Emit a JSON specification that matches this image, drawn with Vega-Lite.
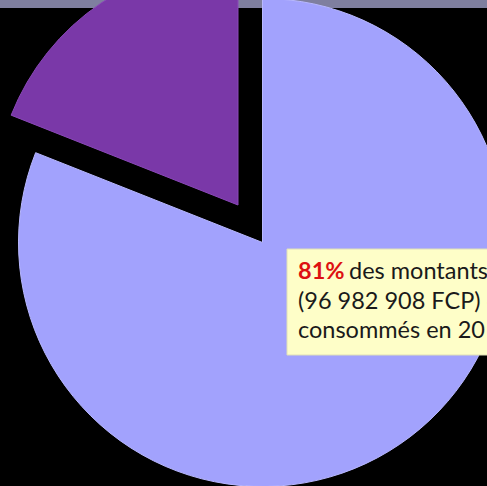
{
  "$schema": "https://vega.github.io/schema/vega-lite/v6.json",
  "width": 487,
  "height": 478,
  "autosize": "none",
  "padding": {"top": 8, "left": 0, "right": 0, "bottom": 0},
  "background": "#7f7f9f",
  "view": {"fill": "#000000", "stroke": null},
  "config": {"view": {"fill": "#000000", "stroke": null}},
  "datasets": {
    "parts": [
      {"categorie": "Consommés", "pourcentage": 81},
      {"categorie": "Non consommés", "pourcentage": 19}
    ],
    "note": [{"ligne1": "81%", "suite1": "des montants", "lignes": ["(96 982 908 FCP) ont", "consommés en 20"]}]
  },
  "layer": [
    {
      "data": {"name": "parts"},
      "transform": [
        {"stack": "pourcentage", "groupby": [], "sort": [{"field": "categorie", "order": "ascending"}], "as": ["debut", "fin"]},
        {"filter": "datum.categorie == 'Consommés'"}
      ],
      "mark": {"type": "arc", "outerRadius": 244, "xOffset": 19, "yOffset": -4.5, "color": "#a2a2fd", "stroke": "#b8b8ff", "strokeWidth": 1},
      "encoding": {
        "theta": {"field": "debut", "type": "quantitative", "scale": {"domain": [0, 100]}},
        "theta2": {"field": "fin"}
      }
    },
    {
      "data": {"name": "parts"},
      "transform": [
        {"stack": "pourcentage", "groupby": [], "sort": [{"field": "categorie", "order": "ascending"}], "as": ["debut", "fin"]},
        {"filter": "datum.categorie == 'Non consommés'"}
      ],
      "mark": {"type": "arc", "outerRadius": 244, "xOffset": -5.5, "yOffset": -42, "color": "#7a38a8", "stroke": "#8a48b8", "strokeWidth": 1},
      "encoding": {
        "theta": {"field": "debut", "type": "quantitative", "scale": {"domain": [0, 100]}},
        "theta2": {"field": "fin"}
      }
    },
    {
      "data": {"name": "note"},
      "mark": {"type": "rect", "x": 287, "x2": 520, "y": 241, "y2": 347, "color": "#fefec8", "stroke": "#e0e0b8", "strokeWidth": 1}
    },
    {
      "data": {"name": "note"},
      "mark": {"type": "text", "x": 298, "y": 271, "align": "left", "baseline": "alphabetic", "font": "Lato", "fontSize": 23.5, "fontWeight": "bold", "color": "#dd1111"},
      "encoding": {"text": {"field": "ligne1"}}
    },
    {
      "data": {"name": "note"},
      "mark": {"type": "text", "x": 349, "y": 271, "align": "left", "baseline": "alphabetic", "font": "Lato", "fontSize": 23.5, "color": "#1a1a1a"},
      "encoding": {"text": {"field": "suite1"}}
    },
    {
      "data": {"name": "note"},
      "mark": {"type": "text", "x": 298, "y": 300.5, "align": "left", "baseline": "alphabetic", "font": "Lato", "fontSize": 23.5, "lineHeight": 29.5, "color": "#1a1a1a"},
      "encoding": {"text": {"field": "lignes"}}
    }
  ]
}
